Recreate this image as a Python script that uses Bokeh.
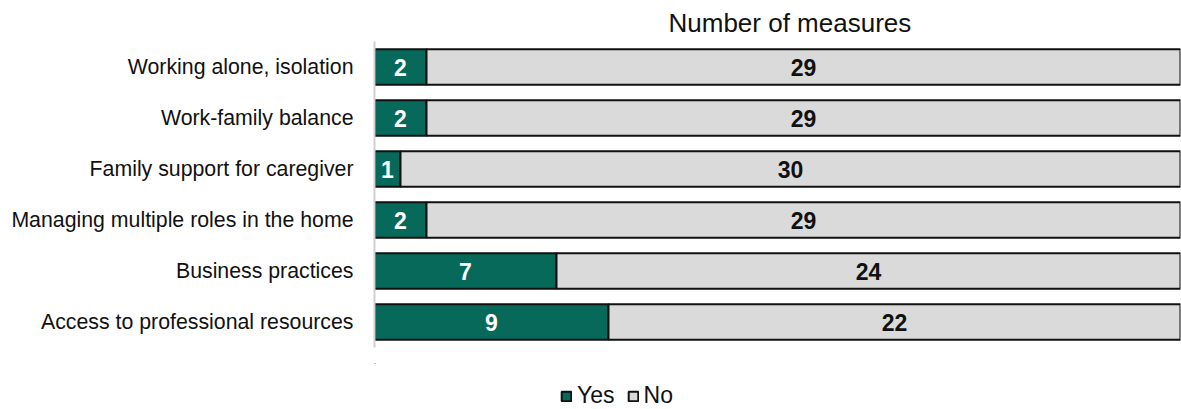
from bokeh.plotting import figure
from bokeh.layouts import column
from bokeh.models import ColumnDataSource, Range1d, Legend, LegendItem, Title
from bokeh.core.properties import value
from bokeh.embed import file_html
from bokeh.resources import INLINE

categories = ["Working alone, isolation", "Work-family balance", "Family support for caregiver",
              "Managing multiple roles in the home", "Business practices", "Access to professional resources"]
yes_vals = [2, 2, 1, 2, 7, 9]
no_vals = [29, 29, 30, 29, 24, 22]
series_names = ["Yes", "No"]

FONT = "Liberation Sans"
GREEN = "#06695a"
GRAY = "#dadada"
EDGE = "#111111"

no_end = [a + b for a, b in zip(yes_vals, no_vals)]
src = ColumnDataSource(dict(
    cat=categories, zero=[0] * len(categories),
    yes_end=yes_vals, no_start=yes_vals, no_end=no_end,
    yes_mid=[v / 2 for v in yes_vals],
    no_mid=[a + b / 2 for a, b in zip(yes_vals, no_vals)],
    yes_txt=[str(v) for v in yes_vals], no_txt=[str(v) for v in no_vals],
))

p = figure(width=1181, height=363, y_range=list(reversed(categories)), x_range=Range1d(0, 31),
           output_backend="svg", toolbar_location=None, min_border_left=374, min_border_right=1,
           min_border_top=41, min_border_bottom=16)
t = Title(text="Number of measures", align="left", text_font=FONT, text_font_size="26px",
          text_font_style="normal", text_color=EDGE, offset=294, standoff=7)
p.add_layout(t, "above")

p.hbar(y="cat", left="zero", right="yes_end", height=0.7, source=src,
       fill_color=GREEN, line_color=EDGE, line_width=2)
p.hbar(y="cat", left="no_start", right="no_end", height=0.7, source=src,
       fill_color=GRAY, line_color=EDGE, line_width=2)

p.text(x="yes_mid", y="cat", text="yes_txt", source=src, text_align="center", text_baseline="middle",
       text_font=value(FONT), text_font_size="23px", text_font_style="bold", text_color="white")
p.text(x="no_mid", y="cat", text="no_txt", source=src, text_align="center", text_baseline="middle",
       text_font=value(FONT), text_font_size="23px", text_font_style="bold", text_color=EDGE)

p.xaxis.visible = False
p.xgrid.visible = False
p.ygrid.visible = False
p.outline_line_color = None
p.yaxis.axis_line_color = "#d0d0d0"
p.yaxis.axis_line_width = 2
p.yaxis.major_tick_line_color = None
p.yaxis.minor_tick_line_color = None
p.yaxis.major_label_text_font = FONT
p.yaxis.major_label_text_font_size = "21.3px"
p.yaxis.major_label_text_color = EDGE
p.yaxis.major_label_standoff = 15

# legend strip (dummy renderers sit outside the visible range; only their legend glyphs show)
lg = figure(width=1181, height=46, x_range=Range1d(0, 1), y_range=Range1d(0, 1),
            output_backend="svg", toolbar_location=None, min_border=0)
lg.axis.visible = False
lg.grid.visible = False
lg.outline_line_color = None
dummy = ColumnDataSource(dict(y=[5], l=[0], r=[0]))
d_yes = lg.hbar(y="y", left="l", right="r", height=1, source=dummy, fill_color=GREEN, line_color=EDGE, line_width=2)
d_no = lg.hbar(y="y", left="l", right="r", height=1, source=dummy, fill_color=GRAY, line_color=EDGE, line_width=2)
legend = Legend(items=[LegendItem(label=series_names[0], renderers=[d_yes]),
                       LegendItem(label=series_names[1], renderers=[d_no])],
                orientation="horizontal", location=(186, 0), label_text_font=FONT,
                label_text_font_size="23px", label_text_color=EDGE,
                glyph_width=12, glyph_height=12, spacing=12, label_standoff=5,
                border_line_color=None, background_fill_alpha=0, padding=2, margin=0)
lg.add_layout(legend, "center")

layout = column(p, lg, spacing=0)
open("out.html", "w").write(file_html(layout, INLINE))
